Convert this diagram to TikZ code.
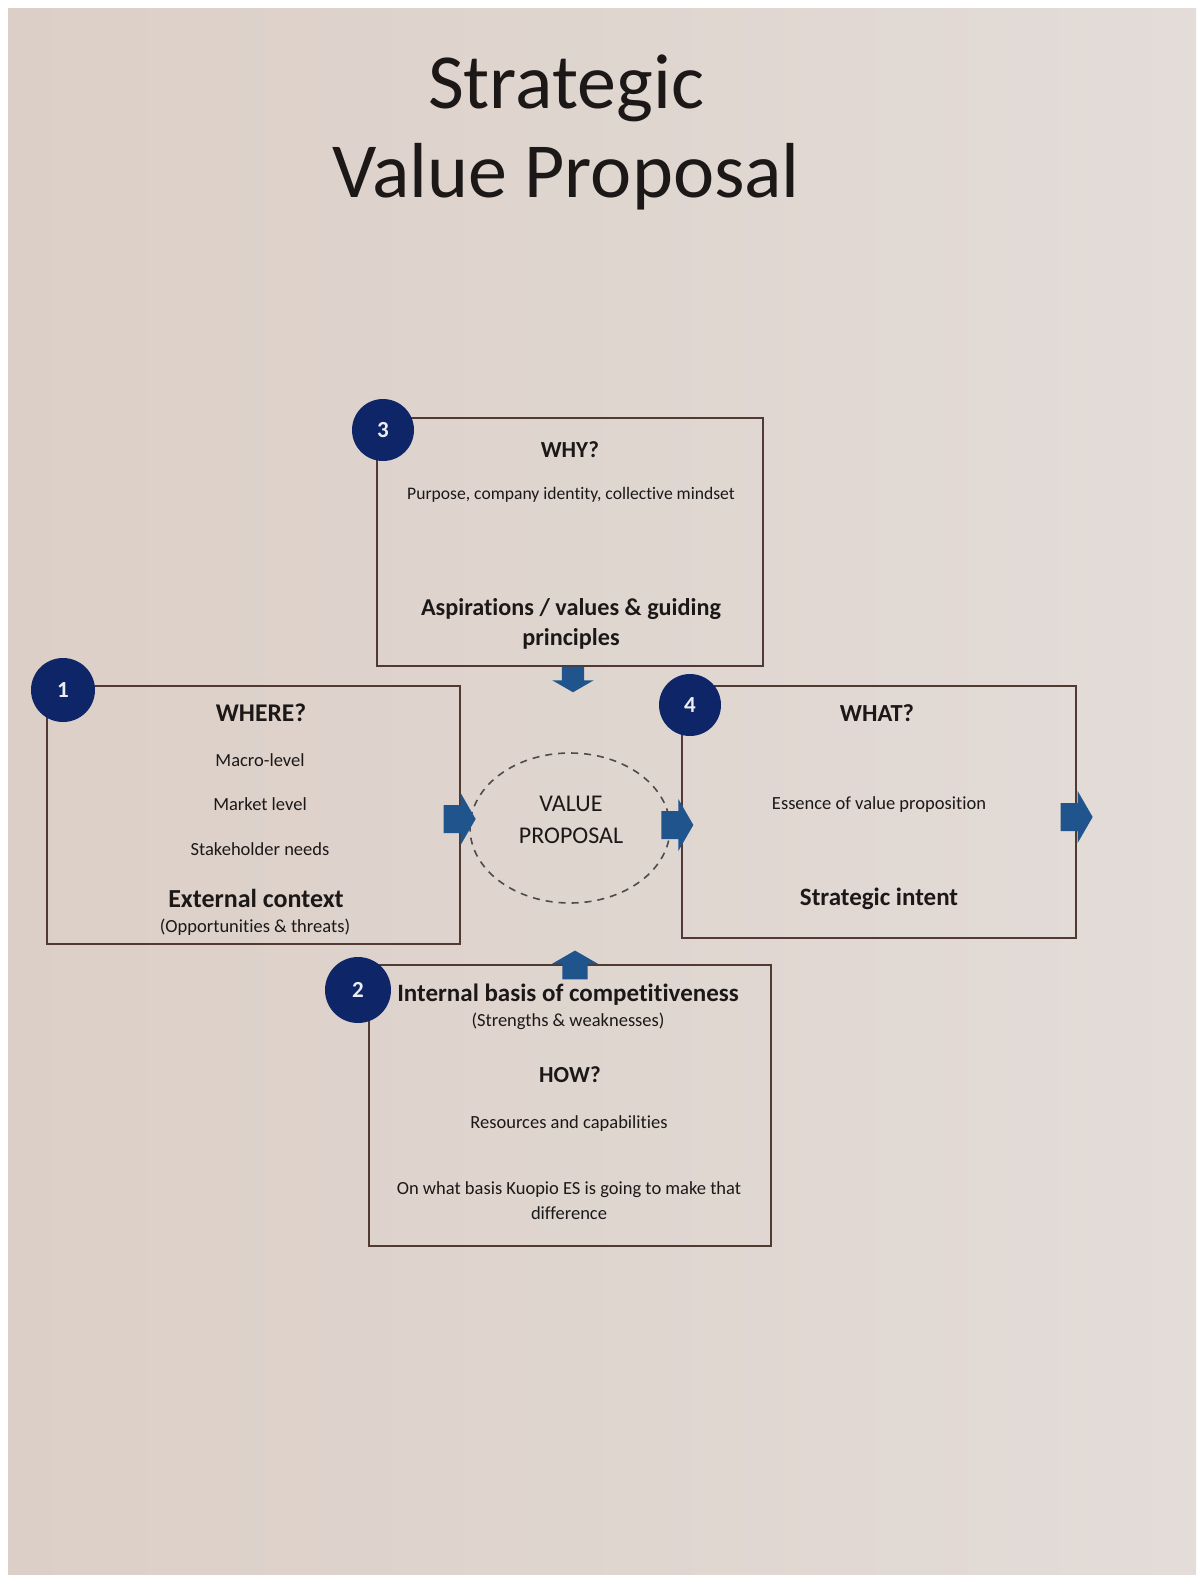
\documentclass[tikz,border=0pt]{standalone}
\usepackage{fontspec}
\setmainfont{Carlito}[Ligatures=NoCommon]
\usetikzlibrary{positioning,shapes.geometric,calc}
\definecolor{paperL}{RGB}{220,207,199}
\definecolor{paperR}{RGB}{227,220,216}
\definecolor{navy}{RGB}{14,38,104}
\definecolor{arrowblue}{RGB}{32,84,140}
\definecolor{boxline}{RGB}{80,58,50}
\definecolor{ink}{RGB}{28,24,24}

\begin{document}
\begin{tikzpicture}[x=1pt, y=-1pt,
  box/.style={draw=boxline, line width=1.3pt, inner sep=0pt},
  numdot/.style={circle, fill=navy, text=white!92!navy, inner sep=0pt,
                 font=\bfseries\fontsize{23}{23}\selectfont},
  head/.style={anchor=base, inner sep=0pt, text=ink, font=\bfseries\fontsize{24}{28}\selectfont},
  sub/.style={anchor=base, inner sep=0pt, text=ink, font=\bfseries\fontsize{25}{29}\selectfont},
  txt/.style={anchor=base, inner sep=0pt, text=ink, font=\fontsize{18.5}{22}\selectfont},
  blockarr/.pic={\fill[arrowblue] (0,-14) -- (17,-14) -- (17,-26) -- (32,0) -- (17,26) -- (17,14) -- (0,14) -- cycle;}]
  % page
  \useasboundingbox (0,0) rectangle (1203,1575);
  \fill[white] (0,0) rectangle (1203,1575);
  \shade[left color=paperL, right color=paperR] (8,8) rectangle (1196,1575);

  % title
  \node[anchor=base, inner sep=0pt, text=ink, font=\fontsize{78}{89}\selectfont] (title1) at (566,108) {Strategic};
  \node[anchor=base, inner sep=0pt, text=ink, font=\fontsize{78}{89}\selectfont] (title2) at (566,197) {Value Proposal};

  % the four boxes and the centre
  \node[box, minimum width=386pt, minimum height=248pt] (bwhy)   at (570,542)    {};
  \node[box, minimum width=413pt, minimum height=258pt] (bwhere) at (253.5,815) {};
  \node[box, minimum width=394pt, minimum height=252pt] (bwhat)  at (879,812)    {};
  \node[box, minimum width=402pt, minimum height=281pt] (bhow)   at (570,1105.5) {};
  \node[ellipse, draw=black!70, line width=1.6pt, dash pattern=on 7pt off 6pt,
        minimum width=200pt, minimum height=150pt, inner sep=0pt] (vp) at (570,828) {};

  % block arrows
  \pic[rotate=-90, scale=0.8] at ($(bwhy.south)+(3,0)$) {blockarr};
  \pic at ($(bwhere.east)+(-17,4)$) {blockarr};
  \pic at ($(bwhat.west)+(-20,13)$) {blockarr};
  \pic at ($(bwhat.east)+(-16,5)$) {blockarr};
  \pic[rotate=90, scale=0.9] at ($(bhow.north)+(5,15)$) {blockarr};

  % numbers
  \node[numdot, minimum size=64pt] (n1) at (63,690)  {1};
  \node[numdot, minimum size=66pt] (n2) at (358,990) {2};
  \node[numdot, minimum size=62pt] (n3) at (383,430) {3};
  \node[numdot, minimum size=62pt] (n4) at (690,705) {4};

  % WHY
  \node[head, font=\bfseries\fontsize{23}{27}\selectfont] (why) at (570,457) {WHY?};
  \node[txt, font=\fontsize{17.6}{21}\selectfont] (purp) at (571,499) {Purpose, company identity, collective mindset};
  \node[sub, font=\bfseries\fontsize{24.2}{28}\selectfont] (asp1) at (571,615) {Aspirations / values \& guiding};
  \node[sub, font=\bfseries\fontsize{24.2}{28}\selectfont] (asp2) at (571,645) {principles};

  % WHERE
  \node[head, font=\bfseries\fontsize{25.5}{30}\selectfont] (where) at (261,721) {WHERE?};
  \node[txt]  (macro) at (260,766) {Macro-level};
  \node[txt]  (mkt)   at (260,810) {Market level};
  \node[txt]  (stake) at (260,855) {Stakeholder needs};
  \node[sub, font=\bfseries\fontsize{26}{30}\selectfont] (ext) at (256,907) {External context};
  \node[txt]  (opp)   at (255,932) {(Opportunities \& threats)};

  % centre
  \node[anchor=base, inner sep=0pt, text=ink, font=\fontsize{24}{28}\selectfont] (vp1) at (571,811) {VALUE};
  \node[anchor=base, inner sep=0pt, text=ink, font=\fontsize{24}{28}\selectfont] (vp2) at (571,843) {PROPOSAL};

  % WHAT
  \node[head, font=\bfseries\fontsize{24.5}{29}\selectfont] (what) at (877,721) {WHAT?};
  \node[txt]  (ess)    at (879,809) {Essence of value proposition};
  \node[sub]  (intent) at (879,905) {Strategic intent};

  % HOW
  \node[sub] (intl)  at (568,1001) {Internal basis of competitiveness};
  \node[txt] (sw)    at (568,1026) {(Strengths \& weaknesses)};
  \node[head, font=\bfseries\fontsize{23}{27}\selectfont] (how) at (570,1082) {HOW?};
  \node[txt] (res)   at (569,1128) {Resources and capabilities};
  \node[txt] (basis) at (569,1194) {On what basis Kuopio ES is going to make that};
  \node[txt] (diff)  at (569,1219) {difference};
\end{tikzpicture}
\end{document}
